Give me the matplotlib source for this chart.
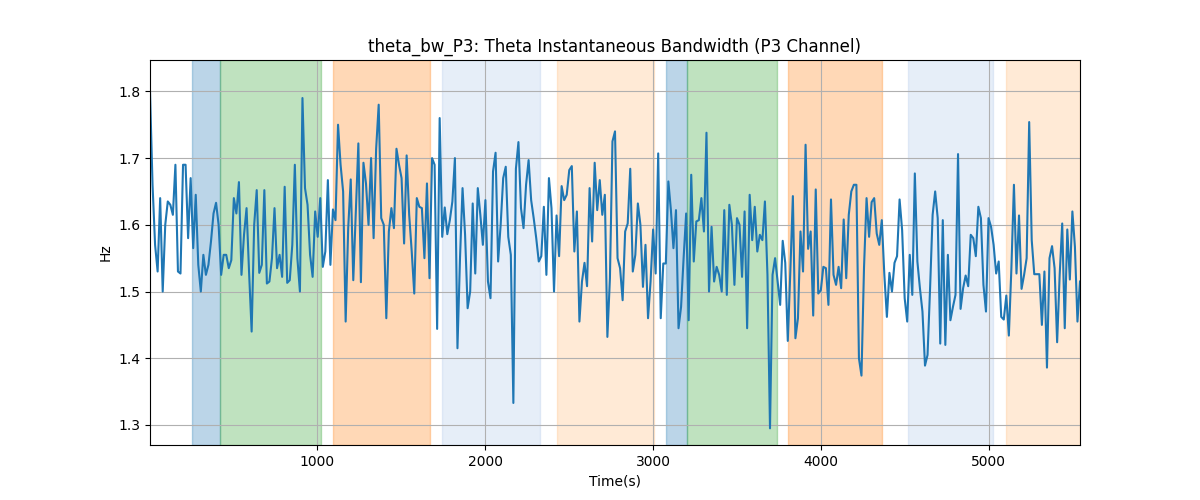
import numpy as np
import matplotlib
matplotlib.use('Agg')
import matplotlib.pyplot as plt

bw_values = [
    1.80, 1.66, 1.57, 1.53, 1.64, 1.50, 1.60, 1.635, 1.63, 1.615,
    1.69, 1.53, 1.527, 1.69, 1.69, 1.58, 1.67, 1.565, 1.645, 1.54,
    1.50, 1.555, 1.525, 1.54, 1.575, 1.617, 1.633, 1.60, 1.525, 1.555,
    1.555, 1.535, 1.547, 1.64, 1.617, 1.664, 1.525, 1.585, 1.625, 1.528,
    1.44, 1.60, 1.652, 1.528, 1.54, 1.652,
    1.512, 1.515, 1.55, 1.625, 1.535, 1.555, 1.522, 1.657, 1.513, 1.517,
    1.57, 1.69, 1.55, 1.50, 1.79, 1.655, 1.63, 1.555, 1.522, 1.62,
    1.582, 1.64, 1.537, 1.56, 1.667, 1.54, 1.623, 1.607, 1.75, 1.69,
    1.65, 1.455, 1.595, 1.668, 1.517, 1.62, 1.722, 1.514, 1.693, 1.662,
    1.60, 1.70, 1.58, 1.714, 1.78,
    1.61, 1.60, 1.46, 1.59, 1.625, 1.595, 1.714, 1.69, 1.67, 1.572,
    1.704, 1.615, 1.56, 1.497, 1.64, 1.627, 1.625, 1.55, 1.662, 1.52,
    1.70, 1.69, 1.444, 1.76, 1.582, 1.626, 1.586, 1.607, 1.635, 1.70,
    1.415, 1.55, 1.655, 1.585, 1.475, 1.50, 1.632, 1.527, 1.655, 1.615,
    1.57, 1.637, 1.515, 1.49, 1.68, 1.708, 1.545,
    1.60, 1.67, 1.687, 1.582, 1.555, 1.333, 1.684, 1.724, 1.625, 1.595,
    1.66, 1.697, 1.637, 1.61, 1.58, 1.545, 1.553, 1.627, 1.525, 1.67,
    1.625, 1.50, 1.614, 1.553, 1.658, 1.637, 1.645, 1.682, 1.688, 1.56,
    1.62, 1.455, 1.515, 1.543, 1.508, 1.655, 1.575, 1.693, 1.622, 1.667,
    1.615, 1.645, 1.432, 1.52, 1.725, 1.74,
    1.55, 1.535, 1.487, 1.59, 1.602, 1.684, 1.53, 1.555, 1.632, 1.60,
    1.507, 1.57, 1.46, 1.515, 1.593, 1.527, 1.707, 1.46, 1.542, 1.542,
    1.665, 1.622, 1.565, 1.622, 1.445, 1.477, 1.55, 1.617, 1.457, 1.675,
    1.545, 1.605, 1.607, 1.64, 1.59, 1.738, 1.50, 1.597, 1.515, 1.537,
    1.525, 1.50, 1.622, 1.495, 1.63, 1.60,
    1.51, 1.61, 1.60, 1.522, 1.62, 1.445, 1.645, 1.577, 1.627, 1.56,
    1.585, 1.577, 1.635, 1.525, 1.295, 1.525, 1.55, 1.515, 1.48, 1.576,
    1.543, 1.426, 1.53, 1.643, 1.43, 1.46, 1.59, 1.53, 1.72, 1.564,
    1.59, 1.464, 1.653, 1.497, 1.502, 1.537, 1.535, 1.48, 1.638, 1.525,
    1.51, 1.537, 1.505, 1.608, 1.52, 1.615, 1.65,
    1.66, 1.66, 1.40, 1.374, 1.536, 1.64, 1.582, 1.634, 1.64, 1.587,
    1.57, 1.607, 1.525, 1.462, 1.528, 1.50, 1.543, 1.553, 1.638, 1.592,
    1.49, 1.455, 1.555, 1.495, 1.677, 1.545, 1.505, 1.47, 1.389, 1.405,
    1.505, 1.615, 1.65, 1.61, 1.422, 1.607, 1.42, 1.555, 1.457, 1.477,
    1.495, 1.706, 1.474, 1.505, 1.524,
    1.508, 1.585, 1.58, 1.553, 1.627, 1.61, 1.51, 1.47, 1.61, 1.597,
    1.57, 1.527, 1.545, 1.462, 1.458, 1.494, 1.434, 1.535, 1.66, 1.527,
    1.614, 1.504, 1.525, 1.55, 1.754, 1.577, 1.526, 1.526, 1.526, 1.45,
    1.53, 1.386, 1.55, 1.568, 1.535, 1.424, 1.525, 1.602, 1.445, 1.593,
    1.518, 1.62, 1.567, 1.455, 1.515,
]
t_start = 5.0
t_step = 15.13

# Shaded segments: start, end and colour (all drawn with alpha 0.3)
span_starts = [256, 423, 1093, 1744, 2427, 3077, 3201, 3802, 4516, 5101]
span_ends = [423, 1024, 1673, 2327, 3006, 3201, 3740, 4361, 5026, 5545]
span_colors = ['#1f77b4', '#2ca02c', '#ff7f0e', '#aec7e8', '#ffbb78',
               '#1f77b4', '#2ca02c', '#ff7f0e', '#aec7e8', '#ffbb78']

times = t_start + np.arange(len(bw_values)) * t_step

fig, ax = plt.subplots(figsize=(12, 5), dpi=100)
for s, e, c in zip(span_starts, span_ends, span_colors):
    ax.axvspan(s, e, color=c, alpha=0.3)

ax.plot(times, bw_values, color='tab:blue')
ax.set_xlim(times[0], times[-1])
ax.set_ylim(1.27, 1.847)
ax.set_xlabel('Time(s)')
ax.set_ylabel('Hz')
ax.set_title('theta_bw_P3: Theta Instantaneous Bandwidth (P3 Channel)')
ax.grid(True)

plt.savefig('out.png')
